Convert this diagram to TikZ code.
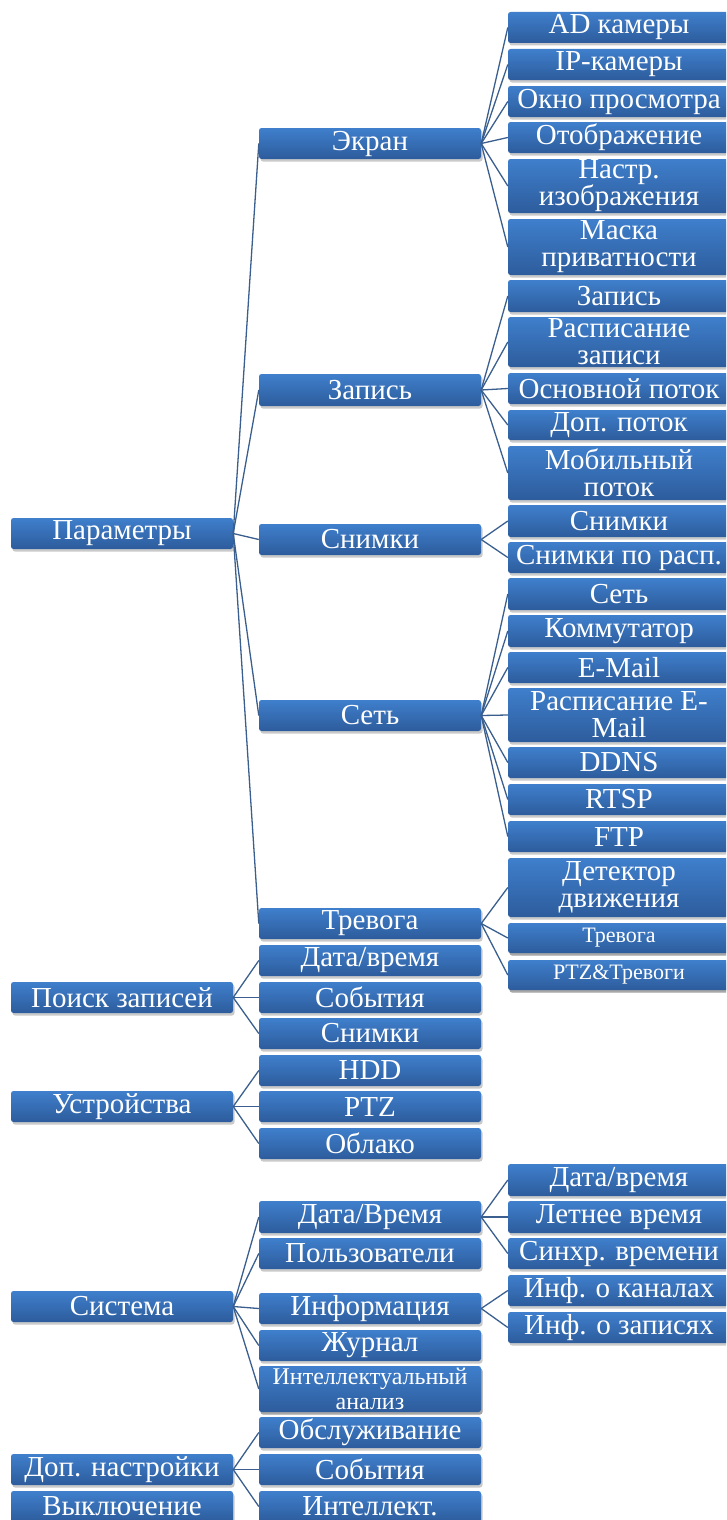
\documentclass[tikz,border=0pt]{standalone}
\usepackage{fontspec}
\setmainfont{Liberation Serif}
\usetikzlibrary{shadows}
\definecolor{boxtop}{HTML}{3F7FCC}
\definecolor{boxbot}{HTML}{2D5C9C}
\definecolor{linec}{HTML}{3A5F8E}
\tikzset{
  box/.style={rectangle, rounded corners=2.5pt, top color=boxtop, bottom color=boxbot,
    draw=none, text=white, align=center, inner sep=0pt, minimum width=222pt,
    font=\fontsize{29}{27}\selectfont,
    drop shadow={shadow xshift=1.5pt, shadow yshift=-2.5pt, opacity=0.35, fill=black!60}},
  smallbox/.style={box, font=\fontsize{22}{22}\selectfont},
  midbox/.style={box, font=\fontsize{24}{25}\selectfont},
  link/.style={draw=linec, line width=1.3pt}
}
\newcommand\bx[6][]{%
  \pgfmathsetmacro\bxh{#5-#4}\pgfmathsetmacro\bxy{(#4+#5)/2}%
  \node[box, minimum height=\bxh pt, #1] (#2) at (#3,\bxy) {#6};}
\begin{document}
\begin{tikzpicture}[x=1pt,y=-1pt]
\useasboundingbox (0,0) rectangle (726,1520);
\clip (0,0) rectangle (726,1520);
% column 1
\bx{par}{122}{518}{549}{Параметры}
\bx{poi}{122}{982}{1013}{Поиск записей}
\bx{ust}{122}{1091}{1122}{Устройства}
\bx{sys}{122}{1291}{1322}{Система}
\bx{dop}{122}{1454}{1485}{Доп. настройки}
\bx{off}{122}{1491}{1522}{Выключение}
% column 2
\bx{ekr}{370}{128}{159}{Экран}
\bx{zap}{370}{374}{406}{Запись}
\bx{sni}{370}{524}{555}{Снимки}
\bx{set}{370}{700}{731}{Сеть}
\bx{tre}{370}{908}{939}{Тревога}
\bx{pdt}{370}{945}{976}{Дата/время}
\bx{pev}{370}{982}{1013}{События}
\bx{psn}{370}{1018}{1049}{Снимки}
\bx{hdd}{370}{1055}{1086}{HDD}
\bx{ptz}{370}{1091}{1122}{PTZ}
\bx{obl}{370}{1128}{1159}{Облако}
\bx{sdt}{370}{1201}{1233}{Дата/Время}
\bx{usr}{370}{1238}{1269}{Пользователи}
\bx{inf}{370}{1293}{1324}{Информация}
\bx{jur}{370}{1330}{1361}{Журнал}
\bx[midbox]{ian}{370}{1366}{1412}{Интеллектуальный\\анализ}
\bx{obs}{370}{1417}{1448}{Обслуживание}
\bx{dev}{370}{1454}{1485}{События}
\bx{dint}{370}{1491}{1522}{Интеллект.}
% column 3
\bx{a1}{619}{12}{43}{AD камеры}
\bx{a2}{619}{49}{80}{IP-камеры}
\bx{a3}{619}{86}{117}{Окно просмотра}
\bx{a4}{619}{122}{153}{Отображение}
\bx{a5}{619}{159}{213}{Настр.\\изображения}
\bx{a6}{619}{219}{275}{Маска\\приватности}
\bx{b1}{619}{280}{312}{Запись}
\bx{b2}{619}{317}{367}{Расписание\\записи}
\bx{b3}{619}{373}{404}{Основной поток}
\bx{b4}{619}{410}{440}{Доп. поток}
\bx{b5}{619}{446}{500}{Мобильный\\поток}
\bx{c1}{619}{505}{537}{Снимки}
\bx{c2}{619}{542}{573}{Снимки по расп.}
\bx{d1}{619}{578}{610}{Сеть}
\bx{d2}{619}{615}{647}{Коммутатор}
\bx{d3}{619}{652}{683}{E-Mail}
\bx{d4}{619}{688}{742}{Расписание E-\\Mail}
\bx{d5}{619}{747}{778}{DDNS}
\bx{d6}{619}{784}{815}{RTSP}
\bx{d7}{619}{821}{852}{FTP}
\bx{e1}{619}{858}{917}{Детектор\\движения}
\bx[smallbox]{e2}{619}{923}{953}{Тревога}
\bx[smallbox]{e3}{619}{960}{990}{PTZ\&Тревоги}
\bx{f1}{619}{1164}{1196}{Дата/время}
\bx{f2}{619}{1201}{1233}{Летнее время}
\bx{f3}{619}{1238}{1269}{Синхр. времени}
\bx{g1}{619}{1275}{1306}{Инф. о каналах}
\bx{g2}{619}{1312}{1343}{Инф. о записях}
% connectors
\foreach \c in {ekr,zap,sni,set,tre} \draw[link] (par.east) -- (\c.west);
\foreach \c in {pdt,pev,psn} \draw[link] (poi.east) -- (\c.west);
\foreach \c in {hdd,ptz,obl} \draw[link] (ust.east) -- (\c.west);
\foreach \c in {sdt,usr,inf,jur,ian} \draw[link] (sys.east) -- (\c.west);
\foreach \c in {obs,dev,dint} \draw[link] (dop.east) -- (\c.west);
\foreach \c in {a1,a2,a3,a4,a5,a6} \draw[link] (ekr.east) -- (\c.west);
\foreach \c in {b1,b2,b3,b4,b5} \draw[link] (zap.east) -- (\c.west);
\foreach \c in {c1,c2} \draw[link] (sni.east) -- (\c.west);
\foreach \c in {d1,d2,d3,d4,d5,d6,d7} \draw[link] (set.east) -- (\c.west);
\foreach \c in {e1,e2,e3} \draw[link] (tre.east) -- (\c.west);
\foreach \c in {f1,f2,f3} \draw[link] (sdt.east) -- (\c.west);
\foreach \c in {g1,g2} \draw[link] (inf.east) -- (\c.west);
\end{tikzpicture}
\end{document}
